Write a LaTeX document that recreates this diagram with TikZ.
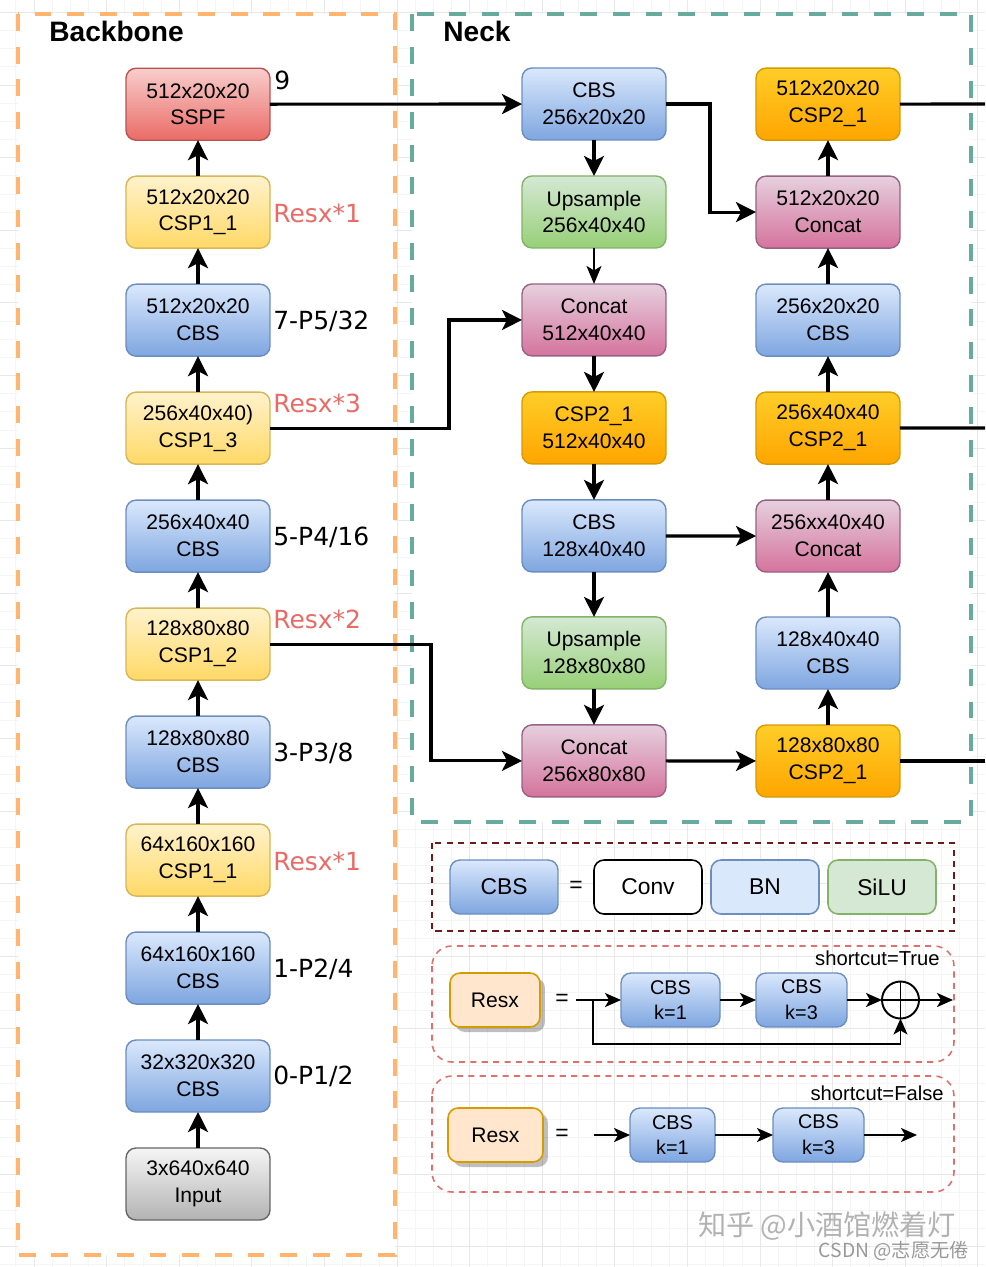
\documentclass[tikz,border=0pt]{standalone}
\usepackage{fontspec}
\setmainfont{Liberation Sans}
\newfontfamily\tagfont{DejaVu Sans}
\newfontfamily\cjkfont{Noto Sans CJK SC}
\usetikzlibrary{positioning,arrows.meta,shadows}

\definecolor{cbsTop}{HTML}{DAE8FC}
\definecolor{cbsBot}{HTML}{7EA6E0}
\definecolor{cbsLine}{HTML}{6C8EBF}
\definecolor{cspTop}{HTML}{FFF2CC}
\definecolor{cspBot}{HTML}{FFD966}
\definecolor{cspLine}{HTML}{D6B656}
\definecolor{sppfTop}{HTML}{F8CECC}
\definecolor{sppfBot}{HTML}{EA6B66}
\definecolor{sppfLine}{HTML}{B85450}
\definecolor{upsTop}{HTML}{D5E8D4}
\definecolor{upsBot}{HTML}{97D077}
\definecolor{upsLine}{HTML}{82B366}
\definecolor{catTop}{HTML}{E6D0DE}
\definecolor{catBot}{HTML}{D5739D}
\definecolor{catLine}{HTML}{996185}
\definecolor{cspbTop}{HTML}{FFCD28}
\definecolor{cspbBot}{HTML}{FFA500}
\definecolor{cspbLine}{HTML}{D79B00}
\definecolor{inpTop}{HTML}{F5F5F5}
\definecolor{inpBot}{HTML}{B3B3B3}
\definecolor{inpLine}{HTML}{666666}
\definecolor{resFill}{HTML}{FFE6CC}
\definecolor{resLine}{HTML}{D79B00}
\definecolor{resRed}{HTML}{EA6B66}
\definecolor{bbOrange}{HTML}{FFB570}
\definecolor{neckTeal}{HTML}{67AB9F}
\definecolor{legDark}{HTML}{6F1A1A}
\definecolor{legRed}{HTML}{E07070}

\tikzset{
  blk/.style={draw, rounded corners=0.2cm, line width=0.8pt, minimum width=2.88cm,
    minimum height=1.44cm, inner sep=1pt, outer sep=0pt, align=center,
    font=\fontsize{12}{15.3}\selectfont},
  cbs/.style={blk, draw=cbsLine, top color=cbsTop, bottom color=cbsBot},
  csp/.style={blk, draw=cspLine, top color=cspTop, bottom color=cspBot},
  sppf/.style={blk, draw=sppfLine, top color=sppfTop, bottom color=sppfBot},
  ups/.style={blk, draw=upsLine, top color=upsTop, bottom color=upsBot},
  cat/.style={blk, draw=catLine, top color=catTop, bottom color=catBot},
  cspb/.style={blk, draw=cspbLine, top color=cspbTop, bottom color=cspbBot},
  inp/.style={blk, draw=inpLine, top color=inpTop, bottom color=inpBot},
  lcbs/.style={cbs, minimum width=2.16cm, minimum height=1.08cm, font=\fontsize{13}{13}\selectfont},
  lbox/.style={draw, rounded corners=0.2cm, line width=0.9pt, minimum width=2.16cm,
    minimum height=1.08cm, outer sep=0pt, font=\fontsize{13}{13}\selectfont},
  kcbs/.style={cbs, minimum height=1.08cm, font=\fontsize{11.3}{14.7}\selectfont},
  resx/.style={draw=resLine, fill=resFill, rounded corners=0.2cm, line width=0.9pt,
    minimum height=1.08cm, outer sep=0pt, font=\fontsize{12}{12}\selectfont,
    drop shadow={shadow xshift=0.1cm, shadow yshift=-0.1cm, fill=black, opacity=0.25}},
  link/.style={line width=1.8pt, -{Stealth[length=0.4cm, width=0.4cm, inset=0.1cm]}},
  thinlink/.style={line width=0.9pt, -{Stealth[length=0.36cm, width=0.3cm, inset=0.09cm]}},
  llink/.style={line width=1.1pt, -{Stealth[length=0.32cm, width=0.28cm, inset=0.08cm]}},
  sidetag/.style={anchor=west, inner sep=0pt, font=\tagfont\fontsize{14.2}{14.2}\selectfont},
  restag/.style={sidetag, text=resRed},
  heading/.style={anchor=west, inner sep=0pt, font=\bfseries\fontsize{16}{16}\selectfont},
  eqsign/.style={inner sep=0pt, font=\fontsize{13}{13}\selectfont},
  note/.style={anchor=east, inner sep=0pt, font=\fontsize{11.5}{11.5}\selectfont},
  gminor/.style={draw=black!4, line width=0.4pt},
  gmajor/.style={draw=black!9, line width=0.4pt},
  bbone/.style={draw=bbOrange, fill=white, line width=1.9pt, dash pattern=on 9.6pt off 9pt},
  nbox/.style={draw=neckTeal, fill=white, line width=1.9pt, dash pattern=on 9.6pt off 9pt},
  dashA/.style={draw=legDark, line width=0.9pt, dash pattern=on 3.5pt off 3pt},
  dashB/.style={draw=legRed, line width=0.9pt, dash pattern=on 3.5pt off 3pt, rounded corners=0.4cm},
  wmark/.style={inner sep=0pt, text=black!30, font=\cjkfont\fontsize{16}{16}\selectfont},
}

\begin{document}
\begin{tikzpicture}[x=0.02cm, y=-0.02cm, node distance=0.72cm]
\useasboundingbox (0,0) rectangle (985,1267);

% background grid
\foreach \i in {0,...,55} \draw[gminor] ({18.15*\i-2.3},0) -- ++(0,1267);
\foreach \j in {0,...,70} \draw[gminor] (0,{18.15*\j-5.75}) -- ++(985,0);
\foreach \i in {0,...,14} \draw[gmajor] ({72.6*\i-38.6},0) -- ++(0,1267);
\foreach \j in {0,...,18} \draw[gmajor] (0,{72.6*\j+12.4}) -- ++(985,0);

% groups
\draw[bbone] (18,14) rectangle (395,1255);
\draw[nbox] (412,14) rectangle (971,822);
\node[heading] (hb) at (49,31) {Backbone};
\node[heading] (hn) at (443,31) {Neck};

% backbone
\node[inp] (In) at (198,1184) {3x640x640\\Input};
\node[cbs, above=of In] (L0) {32x320x320\\CBS};
\node[cbs, above=of L0] (L1) {64x160x160\\CBS};
\node[csp, above=of L1] (L2) {64x160x160\\CSP1\_1};
\node[cbs, above=of L2] (L3) {128x80x80\\CBS};
\node[csp, above=of L3] (L4) {128x80x80\\CSP1\_2};
\node[cbs, above=of L4] (L5) {256x40x40\\CBS};
\node[csp, above=of L5] (L6) {256x40x40)\\CSP1\_3};
\node[cbs, above=of L6] (L7) {512x20x20\\CBS};
\node[csp, above=of L7] (L8) {512x20x20\\CSP1\_1};
\node[sppf, above=of L8] (L9) {512x20x20\\SSPF};

\node[sidetag] (t9) at (274,80) {9};
\node[restag] (r8) at (273,213) {Resx*1};
\node[sidetag] (t7) at (273,321) {7-P5/32};
\node[restag] (r6) at (273,403) {Resx*3};
\node[sidetag] (t5) at (273,537) {5-P4/16};
\node[restag] (r4) at (273,619) {Resx*2};
\node[sidetag] (t3) at (273,753) {3-P3/8};
\node[restag] (r2) at (273,861) {Resx*1};
\node[sidetag] (t1) at (273,969) {1-P2/4};
\node[sidetag] (t0) at (273,1076) {0-P1/2};

% neck
\node[cbs] (N10) at (594,104) {CBS\\256x20x20};
\node[ups, below=of N10] (N11) {Upsample\\256x40x40};
\node[cat, below=of N11] (N12) {Concat\\512x40x40};
\node[cspb, below=of N12] (N13) {CSP2\_1\\512x40x40};
\node[cbs, below=of N13] (N14) {CBS\\128x40x40};
\node[ups, below=0.9cm of N14] (N15) {Upsample\\128x80x80};
\node[cat, below=of N15] (N16) {Concat\\256x80x80};

\node[cspb] (N17) at (828,761) {128x80x80\\CSP2\_1};
\node[cbs, above=of N17] (N18) {128x40x40\\CBS};
\node[cat, above=0.9cm of N18] (N19) {256xx40x40\\Concat};
\node[cspb, above=of N19] (N20) {256x40x40\\CSP2\_1};
\node[cbs, above=of N20] (N21) {256x20x20\\CBS};
\node[cat, above=of N21] (N22) {512x20x20\\Concat};
\node[cspb, above=of N22] (N23) {512x20x20\\CSP2\_1};

\coordinate (O1) at (985,104);
\coordinate (O2) at (985,428);
\coordinate (O3) at (985,761);

\foreach \a/\b in {In/L0, L0/L1, L1/L2, L2/L3, L3/L4, L4/L5, L5/L6, L6/L7, L7/L8, L8/L9}
  \draw[link] (\a) -- (\b);
\foreach \a/\b in {N10/N11, N12/N13, N13/N14, N14/N15, N15/N16,
                   N17/N18, N18/N19, N19/N20, N20/N21, N21/N22, N22/N23,
                   L9/N10, N14/N19, N16/N17}
  \draw[link] (\a) -- (\b);
\draw[thinlink] (N11) -- (N12);
\draw[link] (L6.east) -- ++(179,0) |- (N12.west);
\draw[link] (L4.east) -- ++(161,0) |- (N16.west);
\draw[link] (N10.east) -- ++(44,0) |- (N22.west);
\draw[line width=1.8pt] (N23.east) -- (O1);
\draw[line width=1.8pt] (N20.east) -- (O2);
\draw[line width=1.8pt] (N17.east) -- (O3);

% legend: CBS
\draw[dashA] (432,843) rectangle (954,931);
\node[lcbs] (Lc) at (504,887) {CBS};
\node[eqsign] (eq1) at (576,887) {=};
\node[lbox, fill=white, draw=black] (Cv) at (648,887) {Conv};
\node[lbox, fill=cbsTop, draw=cbsLine] (Bn) at (765,887) {BN};
\node[lbox, fill=upsTop, draw=upsLine] (Si) at (882,887) {SiLU};

% legend: Resx with shortcut
\draw[dashB] (432,946) rectangle (954,1062);
\node[note] (n1) at (940,958) {shortcut=True};
\node[resx, minimum width=1.8cm] (R1) at (495,1000) {Resx};
\node[eqsign] (eq2) at (562,1000) {=};
\coordinate (S1) at (576,1000);
\coordinate (T1) at (593,1000);
\node[kcbs, minimum width=1.98cm] (K1) at (670.5,1000) {CBS\\k=1};
\node[kcbs, minimum width=1.82cm] (K3) at (801.5,1000) {CBS\\k=3};
\node[circle, draw, line width=1.1pt, minimum size=0.74cm, inner sep=0pt, outer sep=0pt,
  path picture={\draw[line width=1.1pt] (path picture bounding box.north) -- (path picture bounding box.south)
    (path picture bounding box.west) -- (path picture bounding box.east);}] (P) at (900.5,1000) {};
\coordinate (E1) at (953,1000);
\draw[llink] (S1) -- (K1);
\draw[llink] (K1) -- (K3);
\draw[llink] (K3) -- (P);
\draw[llink] (P) -- (E1);
\draw[llink] (T1) -- ++(0,44) -| (P.south);

% legend: Resx without shortcut
\draw[dashB] (432,1076) rectangle (954,1192);
\node[note] (n2) at (944,1093) {shortcut=False};
\node[resx, minimum width=1.9cm] (R2) at (495.5,1135) {Resx};
\node[eqsign] (eq3) at (562,1135) {=};
\coordinate (S2) at (594,1135);
\node[kcbs, minimum width=1.7cm] (Q1) at (672.5,1135) {CBS\\k=1};
\node[kcbs, minimum width=1.82cm] (Q3) at (818.5,1135) {CBS\\k=3};
\coordinate (E2) at (917,1135);
\draw[llink] (S2) -- (Q1);
\draw[llink] (Q1) -- (Q3);
\draw[llink] (Q3) -- (E2);

% watermark
\node[wmark] (w1) at (827,1226) {知乎 @小酒馆燃着灯};
\node[wmark, text=black!40, font=\cjkfont\fontsize{11}{11}\selectfont] (w2) at (894,1251) {CSDN @志愿无倦};
\end{tikzpicture}
\end{document}
